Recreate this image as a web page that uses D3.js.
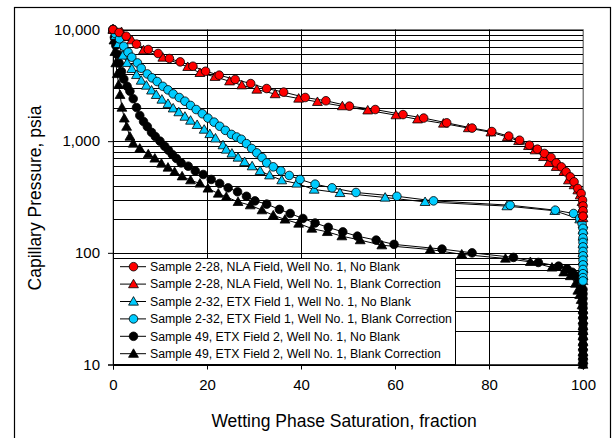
<!DOCTYPE html>
<html><head><meta charset="utf-8">
<script src="https://cdn.jsdelivr.net/npm/d3@7"></script>
<style>
html,body{margin:0;padding:0;background:#fff;}
svg{display:block;font-family:"Liberation Sans",Arial,sans-serif;}
</style></head>
<body><svg id="chart" width="613" height="438"></svg>
<script>
// ---------- DATA ----------
const seriesNames = [
  "Sample 2-28, NLA Field, Well No. 1, No Blank",
  "Sample 2-28, NLA Field, Well No. 1, Blank Correction",
  "Sample 2-32, ETX Field 1, Well No. 1, No Blank",
  "Sample 2-32, ETX Field 1, Well No. 1, Blank Correction",
  "Sample 49, ETX Field 2, Well No. 1, No Blank",
  "Sample 49, ETX Field 2, Well No. 1, Blank Correction"
];
const seriesColors = ["#ff0000","#ff0000","#00ccff","#00ccff","#000000","#000000"];
const seriesSymbols = ["circle","triangle","triangle","circle","circle","triangle"];

// [saturation, pressure]
const s228NoBlank = [[0,10000],[1.3,9400],[2.8,8710],[5.0,7400],[7.5,6620],[9.6,6100],[12.0,5500],[14.3,5130],[17.0,4690],[19.7,4230],[22.6,3900],[26.0,3570],[29.3,3280],[32.7,2960],[36.3,2750],[40.9,2460],[45.3,2300],[50.3,2060],[55.8,1920],[61.7,1730],[66.1,1610],[71.0,1460],[76.4,1310],[80.6,1220],[84.2,1110],[86.5,1020],[88.6,920],[90.3,848],[91.8,776],[93.2,714],[94.3,639],[95.4,589],[96.4,531],[97.3,479],[98.1,432],[98.9,377],[99.6,340],[99.9,296],[100,263],[100,238],[100,213]];
const s228Blank = [[0,10000],[1.8,9520],[4.0,8020],[6.5,6530],[10.6,5610],[15.9,4630],[18.5,4090],[21.7,3770],[24.8,3440],[27.4,3170],[30.6,2900],[34.5,2640],[39.5,2410],[43.5,2250],[48.8,2060],[54.2,1890],[60.2,1710],[64.8,1570],[70.3,1440],[75.6,1310],[80.4,1200],[83.9,1090],[86.3,1005],[88.4,907],[89.8,830],[91.6,723],[92.7,639],[94.3,589],[95.9,531],[96.9,447],[98.1,404],[98.9,364],[99.4,328],[99.8,286],[99.9,249],[100,225],[100,205]];
const s232NoBlank = [[0,10000],[0.5,8800],[1.1,7430],[2.1,5850],[3.0,5020],[4.0,4440],[5.0,3920],[6.0,3490],[7.1,3150],[8.2,2850],[9.2,2600],[10.4,2360],[11.7,2160],[12.8,1970],[14.0,1820],[15.3,1660],[16.5,1530],[17.9,1400],[19.4,1270],[20.6,1160],[21.8,1060],[23.4,921],[24.1,842],[25.3,776],[26.6,714],[28.0,652],[29.6,597],[31.3,542],[33.3,495],[35.9,447],[39.1,418],[42.8,369],[48.3,344],[57.9,313],[66.4,286],[83.8,262],[94.0,238],[99.3,200],[100,180],[100,160],[100,140],[100,120],[100,100],[100,85],[100,72],[100,62],[100,56]];
const s232Blank = [[0,10000],[0.5,9200],[1.4,8240],[2.3,7080],[3.2,6260],[4.0,5650],[5.2,5020],[6.0,4500],[7.3,4000],[8.3,3690],[9.4,3420],[10.6,3100],[11.7,2880],[12.8,2650],[14.1,2460],[15.3,2280],[16.5,2090],[17.7,1920],[19.0,1760],[20.2,1610],[21.5,1480],[22.7,1360],[23.9,1250],[25.2,1150],[26.3,1090],[27.3,1040],[28.4,950],[29.5,860],[30.6,785],[31.7,714],[32.7,639],[34.1,589],[35.7,542],[37.5,493],[39.8,454],[43.0,412],[46.6,382],[51.7,347],[60.4,321],[68.2,292],[84.5,267],[94.1,241],[98.0,225],[99.3,203],[99.8,183],[100,166],[100,150],[100,136],[100,124],[100,113],[100,103],[100,94],[100,86],[100,78],[100,71],[100,65],[100,60],[100,56]];
const s49NoBlank = [[0,10000],[0.3,8500],[0.6,7200],[0.9,6000],[1.3,5000],[1.8,4200],[2.3,3600],[3.0,3100],[3.6,2800],[4.3,2400],[5.0,2000],[5.7,1700],[6.5,1500],[7.3,1350],[8.2,1200],[9.0,1100],[10.0,1000],[11.0,900],[11.8,830],[12.6,760],[13.5,700],[14.5,639],[16.0,597],[17.5,542],[19.2,503],[20.9,454],[22.7,418],[24.5,382],[26.5,352],[28.4,321],[30.2,292],[32.7,273],[35.4,245],[37.7,225],[40.4,203],[43.0,185],[45.8,169],[48.9,154],[52.0,141],[56.0,130],[59.8,119],[70.0,108],[76.4,100],[85.2,91],[90.5,82],[94.8,76],[96.6,72],[97.7,67],[98.6,62],[99.3,55],[99.6,50],[100,47],[100,43],[100,39],[100,35],[100,32],[100,29],[100,26],[100,23],[100,21],[100,19],[100,17],[100,15],[100,13.5],[100,12],[100,11],[100,10]];
const s49Blank = [[0,10000],[0.2,8000],[0.4,6300],[0.6,5000],[0.9,4000],[1.2,3200],[1.5,2600],[1.9,2000],[2.4,1600],[2.9,1350],[3.6,1100],[4.3,953],[5.7,860],[7.5,764],[8.9,700],[10.3,631],[11.7,581],[13.1,531],[14.7,485],[16.5,447],[18.5,418],[20.2,377],[22.4,340],[24.1,317],[26.6,286],[29.2,267],[31.7,241],[34.1,217],[36.6,199],[39.5,183],[42.3,165],[45.6,154],[48.7,141],[52.6,130],[57.2,117],[67.5,107],[74.2,97],[83.5,89],[88.8,83],[93.4,74],[95.9,67],[97.3,62],[98.4,53],[98.9,46],[99.3,42],[99.6,38],[99.8,34],[100,31],[100,28],[100,25],[100,22],[100,20],[100,18],[100,16],[100,14.5],[100,13],[100,12],[100,11],[100,10]];
const seriesData = [s228NoBlank, s228Blank, s232NoBlank, s232Blank, s49NoBlank, s49Blank];

const xTicks = [0,20,40,60,80,100];
const yTicks = [10,100,1000,10000];
const xTitle = "Wetting Phase Saturation, fraction";
const yTitle = "Capillary Pressure, psia";

// ---------- CHART ----------
(function(){
const svg = d3.select("#chart");
const pL = 113, pR = 583, pT = 29.5, pB = 364.5;
const x = d3.scaleLinear().domain([0,100]).range([pL,pR]);
const y = d3.scaleLog().domain([10,10000]).range([pB,pT]);

// outer border
svg.append("rect").attr("x",14.5).attr("y",7.5).attr("width",596).attr("height",440)
  .attr("fill","#fff").attr("stroke","#000").attr("stroke-width",1.2);

// plot area
svg.append("rect").attr("x",pL).attr("y",pT).attr("width",pR-pL).attr("height",pB-pT)
  .attr("fill","#fff").attr("stroke","#808080").attr("stroke-width",1);

// grid
const minor = [];
[10,100,1000].forEach(d=>{for(let k=1;k<10;k++) minor.push(d*k);});
minor.push(10000);
svg.append("g").selectAll("line").data(minor).join("line")
  .attr("x1",pL).attr("x2",pR)
  .attr("y1",d=>Math.round(y(d))+0.5).attr("y2",d=>Math.round(y(d))+0.5)
  .attr("stroke","#000").attr("stroke-width",1);
svg.append("g").selectAll("line").data([20,40,60,80]).join("line")
  .attr("y1",pT).attr("y2",pB)
  .attr("x1",d=>Math.round(x(d))+0.5).attr("x2",d=>Math.round(x(d))+0.5)
  .attr("stroke","#000").attr("stroke-width",1);
svg.append("line").attr("x1",pR+0.5).attr("x2",pR+0.5).attr("y1",pT).attr("y2",pB)
  .attr("stroke","#808080");

// axes
const fmt = d3.format(",");
const yAxis = svg.append("g").attr("transform",`translate(${pL},0)`)
  .call(d3.axisLeft(y).tickValues(yTicks).tickFormat(d=>fmt(d)).tickSize(5).tickPadding(8));
const xAxis = svg.append("g").attr("transform",`translate(0,${pB})`)
  .call(d3.axisBottom(x).tickValues(xTicks).tickSize(5).tickPadding(10));
[yAxis,xAxis].forEach(a=>{
  a.select(".domain").attr("stroke","#000");
  a.selectAll(".tick line").attr("stroke","#000");
  a.selectAll("text").attr("font-size","15px").attr("fill","#000")
    .attr("font-family","'Liberation Sans',Arial,sans-serif");
});

// series
const symTri = d3.symbol().type(d3.symbolTriangle).size(42);
const symCir = d3.symbol().type(d3.symbolCircle).size(58);
const line = d3.line().x(d=>x(d[0])).y(d=>y(d[1]));
const order = [5,4,2,3,1,0];
order.forEach(i=>{
  svg.append("path").datum(seriesData[i]).attr("d",line)
    .attr("fill","none").attr("stroke","#000").attr("stroke-width",1);
});
order.forEach(i=>{
  const sym = seriesSymbols[i]==="circle"?symCir:symTri;
  svg.append("g").selectAll("path").data(seriesData[i]).join("path")
    .attr("d",sym)
    .attr("transform",d=>`translate(${x(d[0])},${y(d[1])+(seriesSymbols[i]==="triangle"?0.8:0)})`)
    .attr("fill",seriesColors[i]).attr("stroke","#000").attr("stroke-width",0.8);
});

// legend
const lg = svg.append("g");
lg.append("rect").attr("x",pL+0.5).attr("y",258.5).attr("width",342).attr("height",106)
  .attr("fill","#fff").attr("stroke","#000").attr("stroke-width",1);
const rowY = [266.7,284.1,301.5,318.9,336.3,353.7];
seriesNames.forEach((name,i)=>{
  const ry = rowY[i];
  lg.append("line").attr("x1",120).attr("x2",146).attr("y1",ry).attr("y2",ry)
    .attr("stroke","#000").attr("stroke-width",1);
  const sym = seriesSymbols[i]==="circle"?symCir:symTri;
  lg.append("path").attr("d",sym).attr("transform",`translate(133.5,${ry+(seriesSymbols[i]==="triangle"?0.8:0)})`)
    .attr("fill",seriesColors[i]).attr("stroke","#000").attr("stroke-width",0.8);
  lg.append("text").attr("x",150).attr("y",ry).attr("dy","0.35em")
    .attr("font-size","12.3px").attr("fill","#000").text(name);
});

// titles
svg.append("text").attr("x",344).attr("y",427).attr("text-anchor","middle")
  .attr("font-size","17.5px").attr("fill","#000").text(xTitle);
svg.append("text").attr("transform","translate(41,198) rotate(-90)").attr("text-anchor","middle")
  .attr("font-size","17.5px").attr("fill","#000").text(yTitle);
})();
</script>
</body></html>
